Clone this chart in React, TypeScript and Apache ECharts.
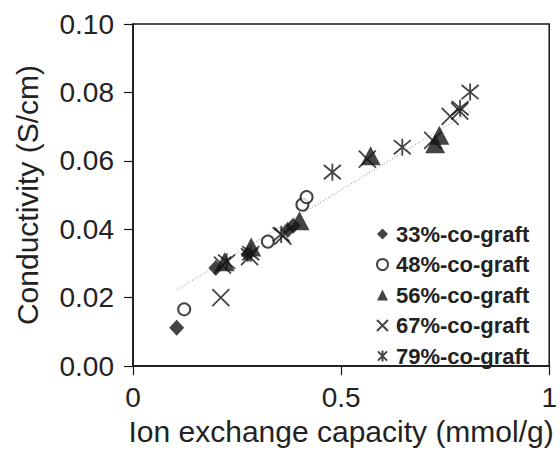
import React, { useEffect, useRef } from "react";
import * as echarts from "echarts";

const seriesNames = ["33%-co-graft", "48%-co-graft", "56%-co-graft", "67%-co-graft", "79%-co-graft"];

const graft33: number[][] = [[0.105, 0.0112], [0.199, 0.0287], [0.276, 0.0327], [0.372, 0.0398], [0.385, 0.041]];
const graft48: number[][] = [[0.123, 0.0166], [0.324, 0.0364], [0.407, 0.0472], [0.417, 0.0494]];
const graft56: number[][] = [[0.22, 0.0305], [0.284, 0.0348], [0.4, 0.0425], [0.571, 0.0615], [0.726, 0.065], [0.736, 0.0675]];
const graft67: number[][] = [[0.211, 0.02], [0.215, 0.0295], [0.28, 0.032], [0.36, 0.038], [0.563, 0.0605], [0.72, 0.066], [0.762, 0.073], [0.785, 0.0745]];
const graft79: number[][] = [[0.225, 0.0305], [0.283, 0.033], [0.356, 0.0385], [0.479, 0.0567], [0.647, 0.064], [0.786, 0.0754], [0.81, 0.0801]];
const trendLine: number[][] = [[0.105, 0.0223], [0.81, 0.0744]];

const xTicks = [0, 0.5, 1];
const yTicks = [0, 0.02, 0.04, 0.06, 0.08, 0.1];

const INK = "#151515";
const CROSS = "path://M0 0 L10 10 M10 0 L0 10";
const STAR = "path://M0 0 L10 10 M10 0 L0 10 M5 -1 L5 11";

export default function App() {
  const ref = useRef<HTMLDivElement>(null);
  useEffect(() => {
    if (!ref.current) return;
    const chart = echarts.init(ref.current, null, { renderer: "svg" });
    const base = { type: "scatter" as const, z: 3 };
    chart.setOption({
      animation: false,
      backgroundColor: "#ffffff",
      grid: { left: 133, right: 8.5, top: 24, bottom: 78, show: true, borderColor: INK, borderWidth: 1.5 },
      xAxis: {
        type: "value",
        min: xTicks[0],
        max: xTicks[xTicks.length - 1],
        interval: 0.5,
        name: "Ion exchange capacity (mmol/g)",
        nameLocation: "middle",
        nameGap: 46,
        nameTextStyle: { fontFamily: "Liberation Sans, Arial", fontSize: 30, color: "#222" },
        axisLine: { show: true, lineStyle: { color: INK, width: 1.5 } },
        axisTick: { show: true, inside: false, length: 9, lineStyle: { color: INK, width: 1.2 } },
        axisLabel: { margin: 17, fontFamily: "Liberation Sans, Arial", fontSize: 28, color: "#222", formatter: (v: number) => String(v) },
        splitLine: { show: false },
      },
      yAxis: {
        type: "value",
        min: yTicks[0],
        max: yTicks[yTicks.length - 1],
        interval: 0.02,
        name: "Conductivity (S/cm)",
        nameLocation: "middle",
        nameGap: 91,
        nameTextStyle: { fontFamily: "Liberation Sans, Arial", fontSize: 30, color: "#222" },
        axisLine: { show: true, lineStyle: { color: INK, width: 1.5 } },
        axisTick: { show: true, inside: false, length: 9, lineStyle: { color: INK, width: 1.2 } },
        axisLabel: { margin: 19, fontFamily: "Liberation Sans, Arial", fontSize: 28, color: "#222", formatter: (v: number) => v.toFixed(2) },
        splitLine: { show: false },
      },
      legend: {
        data: seriesNames,
        orient: "vertical",
        left: 376,
        top: 223,
        padding: 0,
        itemGap: 8.5,
        itemWidth: 11,
        itemHeight: 11,
        textStyle: { fontFamily: "Liberation Sans, Arial", fontSize: 22, fontWeight: "bold", color: "#222", lineHeight: 20, padding: [0, 0, 0, 3] },
      },
      series: [
        {
          type: "line",
          data: trendLine,
          showSymbol: false,
          symbol: "none",
          z: 1,
          lineStyle: { color: "#8a8a8a", width: 1, type: [1, 2] },
          silent: true,
        },
        { ...base, name: seriesNames[0], data: graft33, symbol: "diamond", symbolSize: [15, 16], itemStyle: { color: INK } },
        { ...base, name: seriesNames[1], data: graft48, symbol: "emptyCircle", symbolSize: 12, itemStyle: { color: INK, borderColor: INK, borderWidth: 1.7 } },
        { ...base, name: seriesNames[2], data: graft56, symbol: "triangle", symbolSize: [20, 19], itemStyle: { color: INK } },
        { ...base, name: seriesNames[3], data: graft67, symbol: CROSS, symbolSize: 17, itemStyle: { color: INK, borderColor: INK, borderWidth: 1.8 } },
        { ...base, name: seriesNames[4], data: graft79, symbol: STAR, symbolSize: 17, itemStyle: { color: INK, borderColor: INK, borderWidth: 1.8 } },
      ],
    });
    return () => chart.dispose();
  }, []);
  return <div ref={ref} style={{ width: 560, height: 451, position: "absolute", left: 0, top: 0 }} />;
}
